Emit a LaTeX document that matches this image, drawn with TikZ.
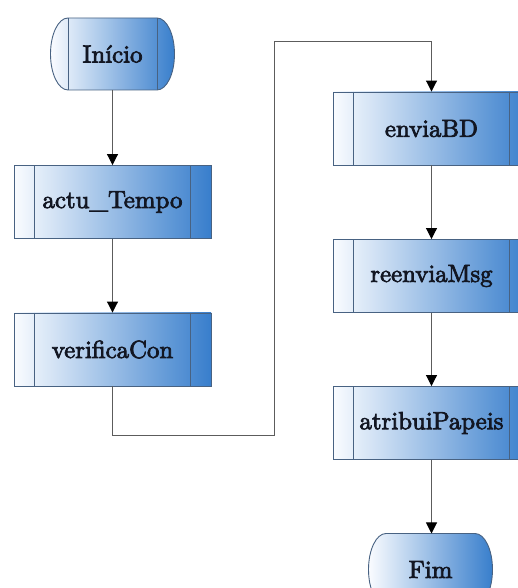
\documentclass[tikz,border=0pt]{standalone}
\usepackage{fontspec}
\usetikzlibrary{arrows.meta,backgrounds}
\newfontfamily\boxfont{lmroman10-regular}[Extension=.otf,FakeBold=3]

\definecolor{bord}{RGB}{72,98,130}
\definecolor{fillL}{RGB}{250,252,255}
\definecolor{fillR}{RGB}{56,126,204}
\definecolor{ink}{RGB}{18,22,34}
\definecolor{wire}{RGB}{92,92,92}

\tikzset{
  x=1pt, y=1pt,
  boxtext/.style={font=\boxfont\fontsize{24.8}{28}\selectfont, text=ink},
  procbox/.style={boxtext, rectangle, draw=bord, line width=0.9pt,
    left color=fillL, right color=fillR,
    minimum width=197pt, minimum height=73pt, inner sep=0pt,
    path picture={
      \draw[bord, line width=0.9pt]
        ([xshift=20.5pt]path picture bounding box.north west) --
        ([xshift=20.5pt]path picture bounding box.south west);
      \draw[bord, line width=0.9pt]
        ([xshift=-20.5pt]path picture bounding box.north east) --
        ([xshift=-20.5pt]path picture bounding box.south east);
    }},
  % inner part of a terminal; its oval outline is drawn behind it
  termcore/.style={boxtext, rectangle, minimum width=89pt, minimum height=72pt,
    inner sep=0pt, outer sep=0pt},
  termfill/.style={draw=bord, line width=0.9pt, left color=fillL, right color=fillR},
  capline/.style={draw=bord, line width=0.9pt},
  flow/.style={draw=wire, line width=1pt,
    -{Triangle[width=11pt,length=11pt,color=black]}}
}

\begin{document}
\begin{tikzpicture}
  \useasboundingbox (0,0) rectangle (518,588);
  \clip (0,0) rectangle (518,588);

  % left column
  \node[termcore] (ini) at (112.5,534) {Início};
  \node[procbox]  (act) at (112.5,386) {actu\_Tempo};
  \node[procbox]  (ver) at (112.5,238.5) {verificaCon};

  % right column
  \node[procbox]  (env) at (431.5,459.5) {enviaBD};
  \node[procbox]  (ree) at (431.5,312) {reenviaMsg};
  \node[procbox]  (atr) at (431.5,165) {atribuiPapeis};
  \node[termcore] (fim) at (430.5,18.5) {Fim};

  % oval outlines of the terminals
  \begin{pgfonlayer}{background}
    \path[termfill] (ini.north west)
      arc[start angle=90, end angle=270, x radius=17.5, y radius=36]
      -- (ini.south east)
      arc[start angle=-90, end angle=90, x radius=17.5, y radius=36]
      -- cycle;
    \path[capline] (ini.north west) -- (ini.south west);
    \path[capline] (ini.north east) -- (ini.south east);
    \path[termfill] (fim.north west)
      arc[start angle=90, end angle=270, x radius=17.5, y radius=36]
      -- (fim.south east)
      arc[start angle=-90, end angle=90, x radius=17.5, y radius=36]
      -- cycle;
  \end{pgfonlayer}

  % routing points of the link between the columns
  \coordinate (r1) at (112.5,152);
  \coordinate (r2) at (274,152);
  \coordinate (r3) at (274,546);
  \coordinate (r4) at (431.5,546);

  \draw[flow] (ini) -- (act);
  \draw[flow] (act) -- (ver);
  \draw[flow] (ver.south) -- (r1) -- (r2) -- (r3) -- (r4) -- (env.north);
  \draw[flow] (env) -- (ree);
  \draw[flow] (ree) -- (atr);
  \draw[flow] (atr.south) -- (atr.south |- fim.north);
\end{tikzpicture}
\end{document}
